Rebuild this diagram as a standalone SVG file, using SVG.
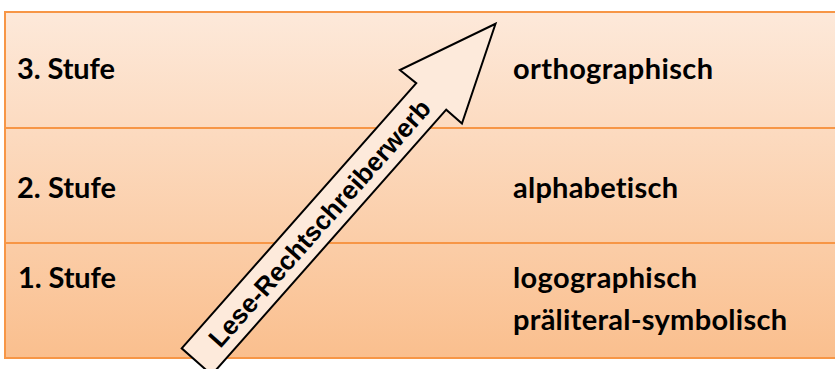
<svg xmlns="http://www.w3.org/2000/svg" width="835" height="369" viewBox="0 0 835 369">
  <defs>
    <linearGradient id="bg" x1="0" y1="12" x2="0" y2="358" gradientUnits="userSpaceOnUse">
      <stop offset="0" stop-color="#FDE9DA"/>
      <stop offset="1" stop-color="#FABF8E"/>
    </linearGradient>
    <style>
      .grid { stroke: #F79646; stroke-width: 2; fill: none; }
      .lbl { font-family: Lato, "Open Sans", "Liberation Sans", sans-serif; font-weight: bold; font-size: 29px; fill: #000; font-variant-ligatures: none; }
      .arr { fill: #FDEADB; stroke: #000; stroke-width: 2; stroke-linejoin: miter; }
      .arrtxt { font-family: "Liberation Sans", Arial, sans-serif; font-weight: bold; font-size: 26px; fill: #000; }
    </style>
  </defs>
  <rect x="0" y="0" width="835" height="369" fill="#fff"/>
  <g id="table">
    <rect x="5" y="12" width="840" height="346" fill="url(#bg)"/>
    <rect class="grid" x="5" y="12" width="840" height="346"/>
    <line class="grid" x1="5" y1="128" x2="835" y2="128"/>
    <line class="grid" x1="5" y1="243" x2="835" y2="243"/>
  </g>
  <g id="stufe3">
    <text class="lbl" x="17" y="79" textLength="98">3. Stufe</text>
    <text class="lbl" x="513" y="79" textLength="200">orthographisch</text>
  </g>
  <g id="stufe2">
    <text class="lbl" x="17" y="198" textLength="99">2. Stufe</text>
    <text class="lbl" x="513" y="198" textLength="165">alphabetisch</text>
  </g>
  <g id="stufe1">
    <text class="lbl" x="18" y="288" textLength="98">1. Stufe</text>
    <text class="lbl" x="513" y="288" textLength="184">logographisch</text>
    <text class="lbl" x="513" y="330" textLength="274">präliteral-symbolisch</text>
  </g>
  <g id="connectors">
    <g id="arrow" transform="translate(181.7,348.3) rotate(-48.5)">
      <polygon class="arr" points="0,0 354,0 353,-21 451,20 354,61 354,40 0,40"/>
      <text class="arrtxt" x="185" y="29.5" text-anchor="middle" textLength="320">Lese-Rechtschreiberwerb</text>
    </g>
  </g>
</svg>
